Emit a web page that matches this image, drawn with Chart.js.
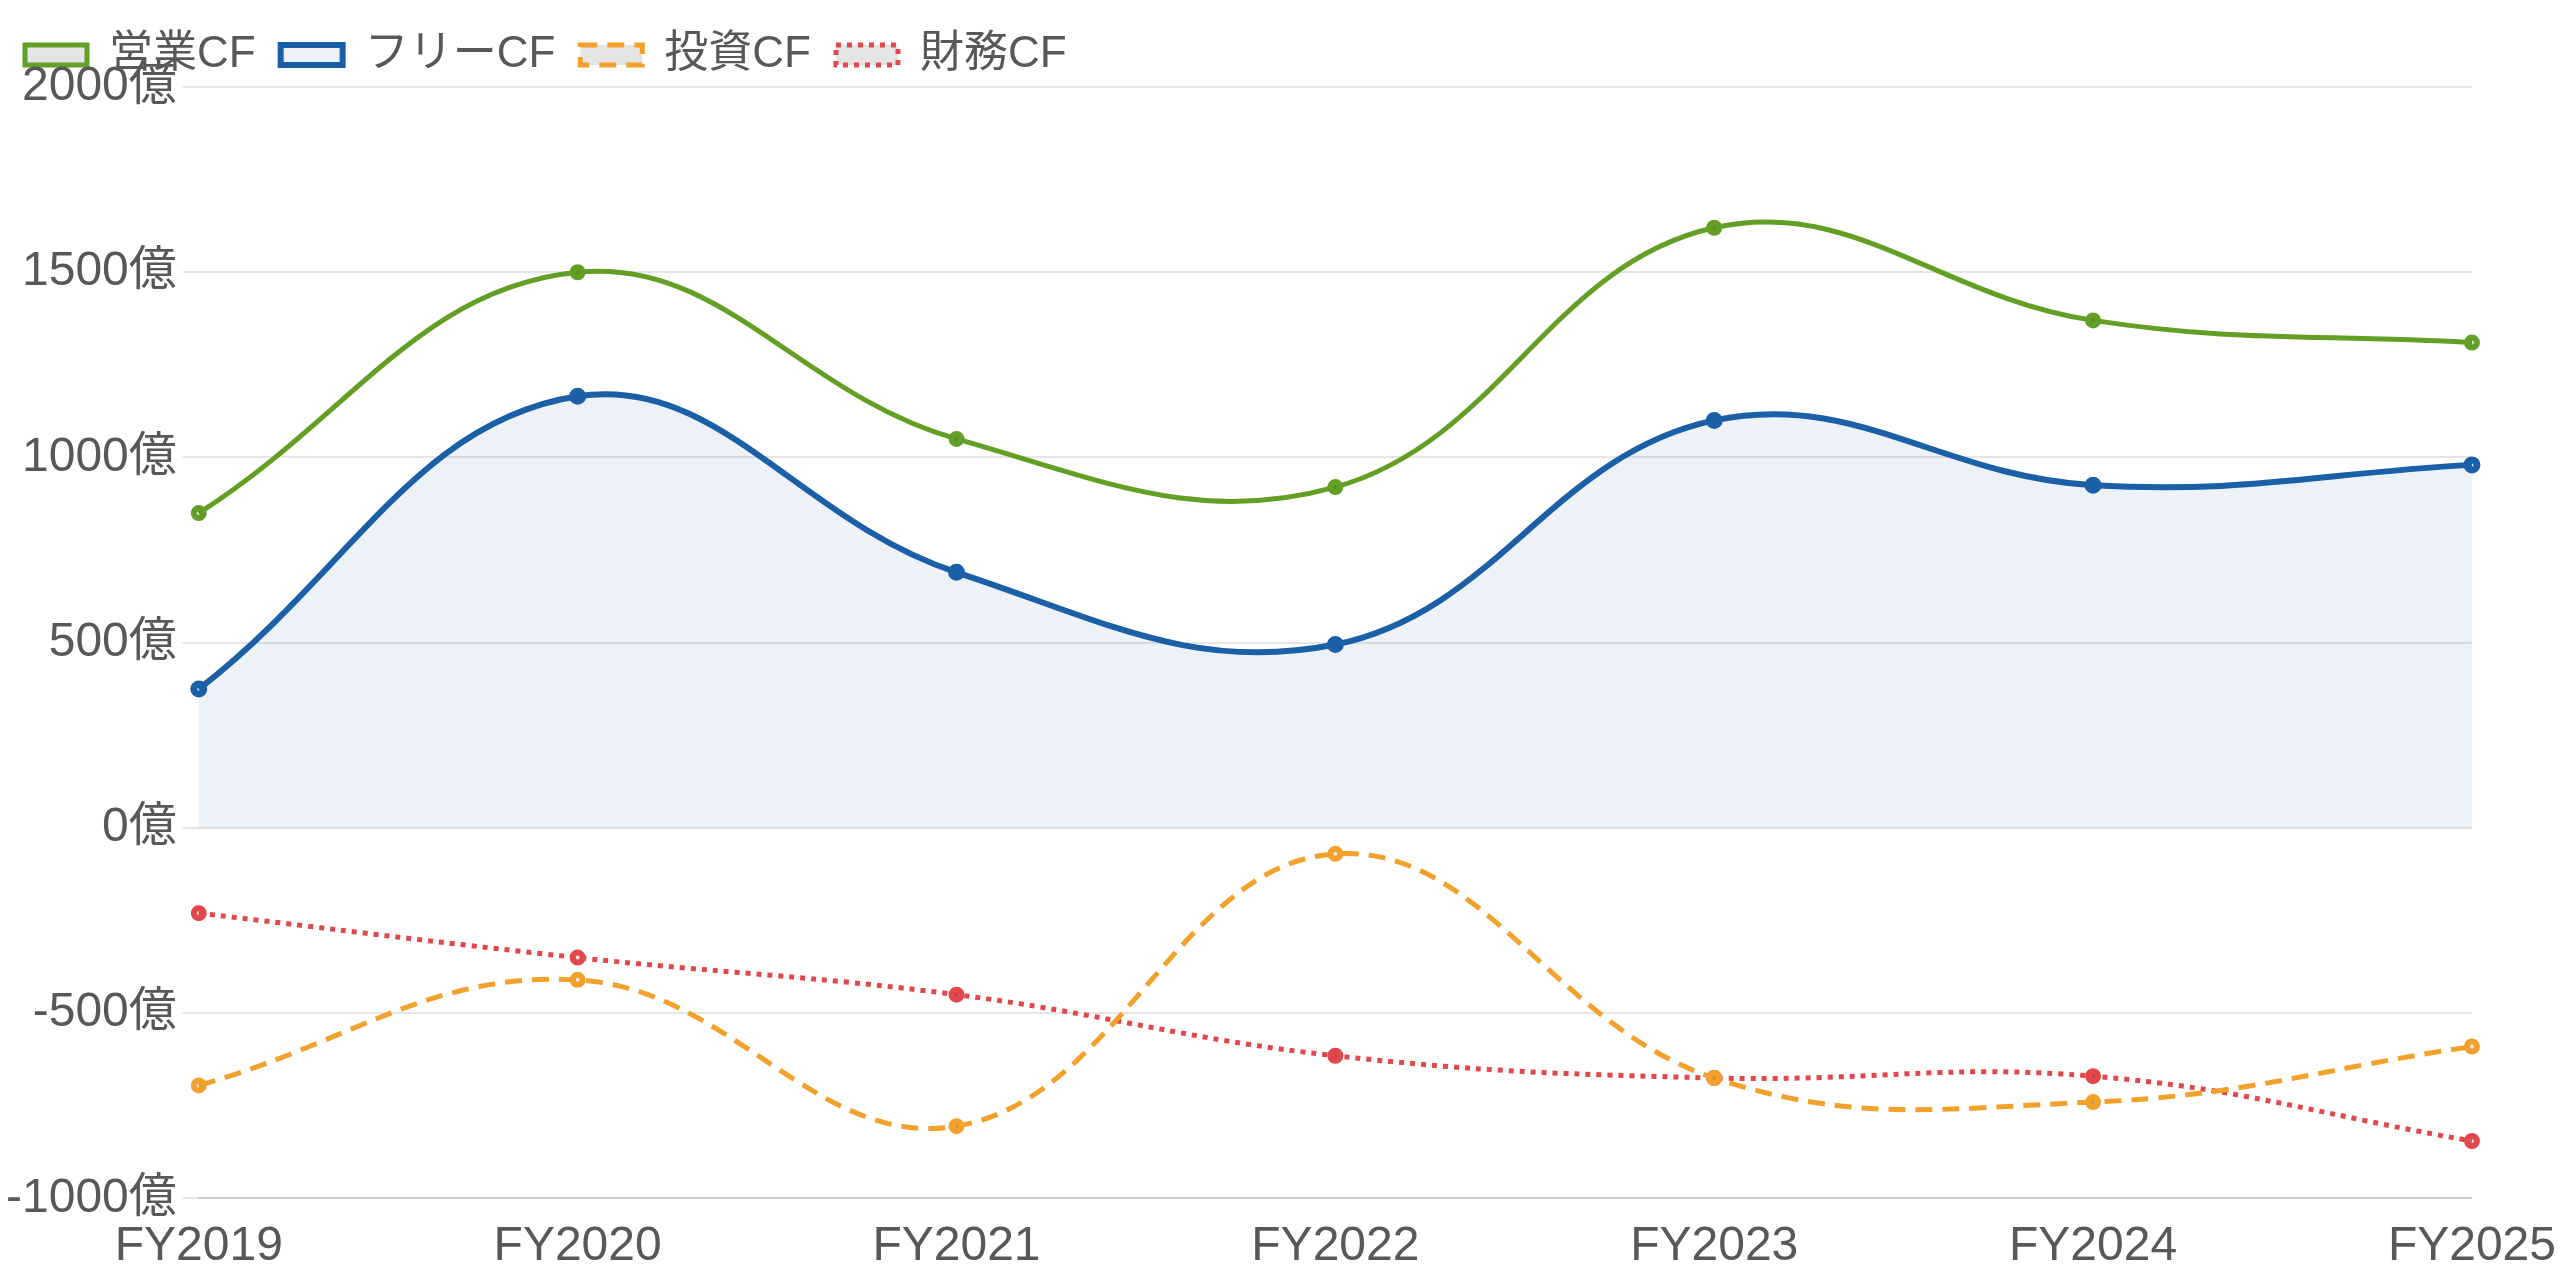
<!DOCTYPE html>
<html lang="ja">
<head>
<meta charset="utf-8">
<title>キャッシュフロー推移</title>
<script src="https://cdn.jsdelivr.net/npm/chart.js@4/dist/chart.umd.min.js"></script>
<style>
  html, body { margin: 0; padding: 0; background: #fff; }
  #wrap { width: 2560px; height: 1280px; }
</style>
</head>
<body>
<div id="wrap"><canvas id="cfChart"></canvas></div>
<script>
// 年度
const years = ['FY2019', 'FY2020', 'FY2021', 'FY2022', 'FY2023', 'FY2024', 'FY2025'];

// キャッシュフロー (億円)
const operatingCF = [850, 1500, 1050, 920, 1620, 1370, 1310];
const freeCF = [375, 1165, 690, 495, 1100, 925, 980];
const investingCF = [-695, -410, -805, -70, -675, -740, -590];
const financingCF = [-230, -350, -450, -615, -675, -670, -845];

// y軸
const yMin = -1000;
const yMax = 2000;
const yStep = 500;

const FONT = "'Helvetica Neue', Helvetica, Arial, 'Noto Sans CJK JP', sans-serif";
const greyBg = 'rgba(0,0,0,0.1)';

Chart.defaults.font.family = FONT;
Chart.defaults.color = '#585858';

const cfChart = new Chart(document.getElementById('cfChart'), {
    type: 'line',
    data: {
        labels: years,
        datasets: [
            {
                label: '営業CF',
                data: operatingCF,
                borderColor: '#639e25',
                backgroundColor: greyBg,
                borderWidth: 5,
                pointRadius: 5,
                pointBorderWidth: 6,
                tension: 0.4,
                fill: false
            },
            {
                label: 'フリーCF',
                data: freeCF,
                borderColor: '#1b5fa7',
                backgroundColor: 'rgba(27,95,167,0.08)',
                borderWidth: 6,
                pointRadius: 5,
                pointBorderWidth: 7,
                tension: 0.4,
                fill: 'origin'
            },
            {
                label: '投資CF',
                data: investingCF,
                borderColor: '#f2a22c',
                backgroundColor: greyBg,
                borderWidth: 5,
                borderDash: [17, 10],
                pointRadius: 5,
                pointBorderWidth: 6,
                tension: 0.4,
                fill: false
            },
            {
                label: '財務CF',
                data: financingCF,
                borderColor: '#e2474c',
                backgroundColor: greyBg,
                borderWidth: 5,
                borderDash: [5, 6],
                pointRadius: 5,
                pointBorderWidth: 6,
                tension: 0.4,
                fill: false
            }
        ]
    },
    options: {
        responsive: true,
        maintainAspectRatio: false,
        animation: false,
        layout: { padding: { top: 8 } },
        plugins: {
            legend: {
                position: 'top',
                align: 'start',
                labels: {
                    font: { size: 44 },
                    boxWidth: 62,
                    boxHeight: 20,
                    padding: 25
                }
            },
            tooltip: { enabled: false }
        },
        scales: {
            x: {
                grid: { display: false, tickLength: 16 },
                border: { display: true, width: 2, color: 'rgba(0,0,0,0.1)' },
                ticks: { font: { size: 48 }, padding: 4, maxRotation: 0 }
            },
            y: {
                min: yMin,
                max: yMax,
                border: { display: false },
                grid: { color: 'rgba(0,0,0,0.1)', lineWidth: 2, tickLength: 16 },
                ticks: {
                    stepSize: yStep,
                    font: { size: 48 },
                    padding: 6,
                    callback: (v) => v + '億'
                }
            }
        }
    }
});
</script>
</body>
</html>
